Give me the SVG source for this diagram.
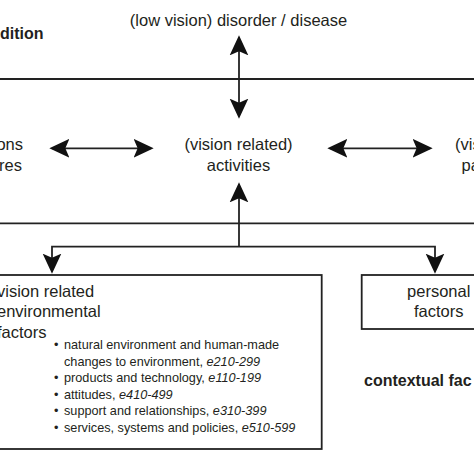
<svg xmlns="http://www.w3.org/2000/svg" width="474" height="474" viewBox="0 0 474 474">
<style>
text{font-family:"Liberation Sans",Arial,sans-serif;fill:#231f20}
.t{font-size:16.5px}
.b{font-size:16px;font-weight:bold}
.s{font-size:12.7px}
.i{font-style:italic}
.ln{stroke:#222;stroke-width:1.8;fill:none}
.box{stroke:#222;stroke-width:1.8;fill:#fff}
</style>
<defs>
<marker id="ah" markerUnits="userSpaceOnUse" markerWidth="20" markerHeight="20" refX="13" refY="7" orient="auto-start-reverse" viewBox="0 0 15 14">
<path d="M15,7 L0,0 L3,7 L0,14 Z" fill="#111"/>
</marker>
</defs>
<rect width="474" height="474" fill="#fff"/>
<g id="bands">
<line class="ln" x1="0" y1="79" x2="474" y2="79"/>
<line class="ln" x1="0" y1="223.3" x2="474" y2="223.3"/>
</g>
<g id="health-condition">
<text class="b" x="0" y="39">dition</text>
</g>
<g id="disorder">
<text class="t" x="238.5" y="26" text-anchor="middle">(low vision) disorder / disease</text>
</g>
<g id="functions">
<text class="t" x="23" y="150" text-anchor="end">ons</text>
<text class="t" x="22" y="171" text-anchor="end">res</text>
</g>
<g id="activities">
<text class="t" x="238.5" y="150" text-anchor="middle">(vision related)</text>
<text class="t" x="238.5" y="171" text-anchor="middle">activities</text>
</g>
<g id="participation">
<text class="t" x="455" y="150">(vis</text>
<text class="t" x="461.5" y="171">pa</text>
</g>
<g id="environmental">
<rect class="box" x="-5" y="275" width="326.7" height="174"/>
<text class="t" x="-3" y="297">vision related</text>
<text class="t" x="-3" y="317">environmental</text>
<text class="t" x="-3" y="338">factors</text>
<g class="s">
<text class="s" x="54" y="349">•</text>
<text class="s" x="64" y="349">natural environment and human-made</text>
<text class="s" x="64" y="365.5">changes to environment, <tspan class="i">e210-299</tspan></text>
<text class="s" x="54" y="382">•</text>
<text class="s" x="64" y="382">products and technology, <tspan class="i">e110-199</tspan></text>
<text class="s" x="54" y="398.5">•</text>
<text class="s" x="64" y="398.5">attitudes, <tspan class="i">e410-499</tspan></text>
<text class="s" x="54" y="415">•</text>
<text class="s" x="64" y="415">support and relationships, <tspan class="i">e310-399</tspan></text>
<text class="s" x="54" y="431.5">•</text>
<text class="s" x="64" y="431.5">services, systems and policies, <tspan class="i">e510-599</tspan></text>
</g>
</g>
<g id="personal">
<rect class="box" x="361.7" y="275" width="120" height="54"/>
<text class="t" x="438.7" y="297" text-anchor="middle">personal</text>
<text class="t" x="438.7" y="317" text-anchor="middle">factors</text>
</g>
<g id="contextual">
<text class="b" x="364" y="386">contextual fac</text>
</g>
<g id="connectors">
<line class="ln" x1="239" y1="38" x2="239" y2="116" marker-start="url(#ah)" marker-end="url(#ah)"/>
<line class="ln" x1="52" y1="148.3" x2="151" y2="148.3" marker-start="url(#ah)" marker-end="url(#ah)"/>
<line class="ln" x1="330" y1="148.3" x2="430" y2="148.3" marker-start="url(#ah)" marker-end="url(#ah)"/>
<line class="ln" x1="239" y1="246.7" x2="239" y2="185" marker-end="url(#ah)"/>
<polyline class="ln" points="52,271 52,246.7 435,246.7 435,271"/>
<line class="ln" x1="52" y1="260" x2="52" y2="271" marker-end="url(#ah)"/>
<line class="ln" x1="435" y1="260" x2="435" y2="271" marker-end="url(#ah)"/>
</g>
</svg>
